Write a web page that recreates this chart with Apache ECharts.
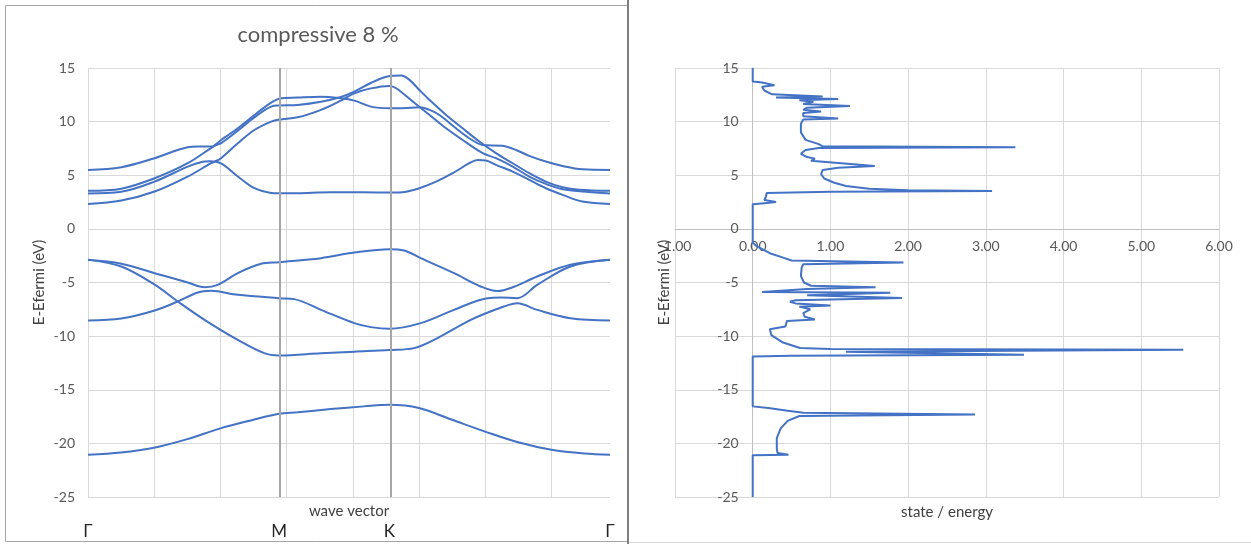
<!DOCTYPE html>
<html>
<head>
<meta charset="utf-8">
<script src="https://cdn.jsdelivr.net/npm/echarts@6/dist/echarts.min.js"></script>
<style>
html,body{margin:0;padding:0;background:#fff;}
#chart{width:1251px;height:544px;}
</style>
</head>
<body>
<div id="chart"></div>
<script>
// ---- data ----
var chartTitle = 'compressive 8 %';
var kPointValues = [0, 0.866, 1.366, 2.366];
var kPointNames = ['Γ', 'M', 'K', 'Γ'];
var yTicks = {min: -25, max: 15, step: 5};
var dosTicks = {min: -1, max: 6, step: 1};

// band structure: [k, E-Ef]
var band1 = [[0,-21.05],[0.15,-20.85],[0.3,-20.4],[0.45,-19.6],[0.6,-18.6],[0.75,-17.8],[0.866,-17.24],[0.95,-17.1],[1.1,-16.8],[1.25,-16.55],[1.366,-16.4],[1.5,-16.7],[1.65,-17.8],[1.8,-18.9],[1.95,-19.9],[2.1,-20.6],[2.25,-20.95],[2.366,-21.05]];
var band2 = [[0,-2.89],[0.151,-3.51],[0.302,-5.2],[0.407,-6.77],[0.528,-8.48],[0.679,-10.35],[0.799,-11.59],[0.866,-11.8],[1.056,-11.6],[1.207,-11.45],[1.366,-11.3],[1.478,-11.12],[1.584,-10.19],[1.735,-8.48],[1.885,-7.24],[1.946,-6.93],[2.036,-7.55],[2.187,-8.33],[2.366,-8.54]];
var band3 = [[0,-8.54],[0.151,-8.36],[0.302,-7.61],[0.407,-6.77],[0.498,-5.93],[0.558,-5.78],[0.679,-6.15],[0.866,-6.46],[0.935,-6.55],[1.056,-7.55],[1.207,-8.79],[1.282,-9.16],[1.366,-9.32],[1.508,-8.79],[1.659,-7.55],[1.81,-6.46],[1.87,-6.4],[1.946,-6.46],[2.036,-5.22],[2.187,-3.51],[2.366,-2.89]];
var band4 = [[0,-2.89],[0.151,-3.26],[0.302,-4.13],[0.452,-5.0],[0.528,-5.44],[0.588,-5.22],[0.679,-4.13],[0.784,-3.26],[0.866,-3.11],[1.056,-2.73],[1.207,-2.21],[1.366,-1.9],[1.433,-2.02],[1.508,-2.73],[1.659,-4.13],[1.78,-5.37],[1.855,-5.8],[1.931,-5.4],[2.036,-4.44],[2.187,-3.35],[2.366,-2.89]];
var band5 = [[0,2.33],[0.151,2.64],[0.302,3.48],[0.452,4.88],[0.558,6.12],[0.588,6.4],[0.603,6.59],[0.679,7.98],[0.754,9.22],[0.83,10.0],[0.866,10.2],[0.95,10.4],[1.056,11.1],[1.146,11.96],[1.207,12.64],[1.282,13.1],[1.366,13.33],[1.397,13.11],[1.472,11.87],[1.548,10.62],[1.623,9.38],[1.698,8.29],[1.789,7.06],[1.849,6.59],[1.925,5.81],[2.0,4.88],[2.075,4.19],[2.151,3.7],[2.366,3.3]];
var band6 = [[0,3.3],[0.151,3.46],[0.302,4.41],[0.452,5.8],[0.52,6.25],[0.55,6.3],[0.603,6.1],[0.679,4.88],[0.754,3.79],[0.83,3.35],[0.866,3.32],[0.95,3.33],[1.1,3.42],[1.25,3.42],[1.366,3.38],[1.442,3.47],[1.502,3.79],[1.578,4.41],[1.653,5.19],[1.728,6.12],[1.766,6.43],[1.804,6.37],[1.849,5.97],[1.925,5.34],[2.0,4.57],[2.075,3.79],[2.151,3.17],[2.241,2.55],[2.366,2.33]];
var band7 = [[0,3.55],[0.151,3.75],[0.302,4.72],[0.452,6.12],[0.573,7.74],[0.603,8.0],[0.679,9.16],[0.754,10.4],[0.83,11.4],[0.866,11.5],[0.95,11.56],[1.056,11.86],[1.146,12.3],[1.207,12.8],[1.282,13.6],[1.357,14.2],[1.42,14.29],[1.457,13.89],[1.502,12.95],[1.548,12.02],[1.623,10.62],[1.698,9.38],[1.774,8.14],[1.849,7.06],[1.925,6.12],[2.0,5.19],[2.075,4.41],[2.151,3.88],[2.226,3.65],[2.366,3.55]];
var band8 = [[0,5.5],[0.151,5.75],[0.302,6.59],[0.452,7.61],[0.498,7.67],[0.558,7.67],[0.603,8.29],[0.679,9.38],[0.754,10.62],[0.83,11.77],[0.866,12.14],[0.95,12.24],[1.056,12.33],[1.146,12.18],[1.207,11.96],[1.282,11.4],[1.366,11.25],[1.427,11.25],[1.502,11.34],[1.548,11.09],[1.593,10.62],[1.668,9.38],[1.728,8.45],[1.789,7.83],[1.879,7.74],[1.94,7.36],[2.0,6.81],[2.075,6.28],[2.151,5.87],[2.241,5.56],[2.366,5.5]];

// density of states: [state/energy, E-Ef]
var dosCurve = [[0,15],[0,13.75],[0.12,13.65],[0.28,13.4],[0.12,13.25],[0.15,12.9],[0.25,12.55],[0.9,12.35],[0.3,12.25],[1.1,12.1],[0.6,12.0],[0.78,11.85],[0.65,11.65],[1.25,11.45],[0.7,11.3],[0.65,11.1],[0.88,10.95],[0.65,10.8],[0.65,10.5],[1.1,10.3],[0.65,10.2],[0.62,9.8],[0.62,9.0],[0.68,8.3],[0.85,7.9],[0.9,7.7],[3.38,7.62],[0.85,7.55],[0.68,7.35],[0.62,7.0],[0.7,6.7],[0.8,6.55],[0.75,6.35],[1.1,6.15],[1.57,5.87],[1.1,5.7],[0.9,5.5],[0.88,5.1],[0.92,4.7],[1.05,4.3],[1.2,4.0],[1.5,3.75],[2.0,3.6],[3.08,3.54],[1.0,3.45],[0.18,3.35],[0.17,3.0],[0.15,2.7],[0.3,2.5],[0.15,2.4],[0,2.3],[0,-1.3],[0.05,-1.6],[0.22,-2.27],[0.4,-2.7],[0.5,-2.95],[1.94,-3.14],[0.65,-3.3],[0.63,-3.6],[0.62,-4.4],[0.66,-5.0],[0.75,-5.3],[1.58,-5.44],[0.7,-5.6],[0.12,-5.88],[1.77,-5.95],[0.7,-6.2],[1.92,-6.45],[0.55,-6.65],[0.48,-6.8],[0.55,-6.95],[1.0,-7.15],[0.6,-7.25],[0.74,-7.5],[0.65,-7.85],[0.67,-8.2],[0.8,-8.45],[0.44,-8.6],[0.42,-9.1],[0.22,-9.35],[0.24,-9.9],[0.39,-10.6],[0.61,-11.1],[1.0,-11.2],[5.54,-11.28],[1.2,-11.45],[3.49,-11.74],[0.5,-11.82],[0,-11.9],[0,-16.55],[0.2,-16.7],[0.45,-16.95],[0.65,-17.15],[2.86,-17.3],[0.6,-17.45],[0.45,-17.9],[0.36,-18.6],[0.31,-19.5],[0.31,-20.5],[0.32,-20.9],[0.46,-21.05],[0,-21.1],[0,-25]];

var bands = [band1, band2, band3, band4, band5, band6, band7, band8];

// ---- chart ----
var FONT = 'Lato, "Open Sans", sans-serif';
var BLUE = '#4472c4';
var GRID_C = '#d9d9d9';
var G2 = {left: 675, top: 68, width: 544, height: 429};
var chart = echarts.init(document.getElementById('chart'), null, {renderer: 'canvas'});

// offsets that put the DOS axes on the zero lines of the other axis
var xZeroOffset = -G2.height * (0 - yTicks.min) / (yTicks.max - yTicks.min);
var yZeroOffset = -G2.width * (0 - dosTicks.min) / (dosTicks.max - dosTicks.min);

var series = bands.map(function (b, i) {
  var s = {
    type: 'line', xAxisIndex: 0, yAxisIndex: 0, data: b,
    showSymbol: false, smooth: 0.35,
    lineStyle: {color: BLUE, width: 2}, itemStyle: {color: BLUE},
    silent: true, animation: false
  };
  if (i === 0) {
    s.markLine = {
      silent: true, symbol: ['none', 'none'], animation: false,
      label: {show: false},
      lineStyle: {color: '#a6a6a6', width: 2, type: 'solid'},
      data: [{xAxis: kPointValues[1]}, {xAxis: kPointValues[2]}]
    };
  }
  return s;
});
series.push({
  type: 'line', xAxisIndex: 1, yAxisIndex: 1, data: dosCurve,
  showSymbol: false, smooth: false,
  lineStyle: {color: BLUE, width: 2}, itemStyle: {color: BLUE},
  silent: true, animation: false
});

var option = {
  animation: false,
  backgroundColor: '#fff',
  textStyle: {fontFamily: FONT},
  title: {
    text: chartTitle, left: 313, top: 19, textAlign: 'center',
    textStyle: {fontFamily: FONT, fontSize: 22, fontWeight: 'normal', color: '#595959'}
  },
  graphic: [
    {type: 'rect', shape: {x: 5.5, y: 5.5, width: 622, height: 536}, style: {fill: 'none', stroke: '#a6a6a6', lineWidth: 1}, silent: true},
    {type: 'line', shape: {x1: 628, y1: 0, x2: 628, y2: 544}, style: {stroke: '#7f7f7f', lineWidth: 2}, silent: true},
    {type: 'line', shape: {x1: 629, y1: 542.5, x2: 1251, y2: 542.5}, style: {stroke: '#d9d9d9', lineWidth: 1}, silent: true}
  ],
  grid: [
    {left: 88, top: 68, width: 522, height: 429, outerBoundsMode: 'none', containLabel: false},
    {left: G2.left, top: G2.top, width: G2.width, height: G2.height, outerBoundsMode: 'none', containLabel: false}
  ],
  xAxis: [
    {
      gridIndex: 0, type: 'value', min: kPointValues[0], max: kPointValues[3], interval: 0.3,
      axisLine: {show: false, onZero: false}, axisTick: {show: false},
      axisLabel: {
        customValues: kPointValues, margin: 26, fontSize: 17, color: '#262626', fontFamily: FONT,
        formatter: function (v) {
          for (var i = 0; i < kPointValues.length; i++) {
            if (Math.abs(kPointValues[i] - v) < 1e-6) return kPointNames[i];
          }
          return '';
        }
      },
      splitLine: {show: true, showMaxLine: false, lineStyle: {color: GRID_C, width: 1}},
      name: 'wave vector', nameLocation: 'middle', nameGap: 7, nameMoveOverlap: false,
      nameTextStyle: {fontSize: 15, color: '#404040', fontFamily: FONT}
    },
    {
      gridIndex: 1, type: 'value', min: dosTicks.min, max: dosTicks.max, interval: dosTicks.step,
      position: 'bottom', offset: xZeroOffset,
      axisLine: {show: true, onZero: false, lineStyle: {color: '#bfbfbf', width: 1}},
      axisTick: {show: false},
      axisLabel: {margin: 11, fontSize: 14, color: '#595959', fontFamily: FONT,
        formatter: function (v) { return v.toFixed(2); }},
      splitLine: {show: true, lineStyle: {color: GRID_C, width: 1}},
      name: 'state / energy', nameLocation: 'middle', nameGap: 276, nameMoveOverlap: false,
      nameTextStyle: {fontSize: 15, color: '#404040', fontFamily: FONT}
    }
  ],
  yAxis: [
    {
      gridIndex: 0, type: 'value', min: yTicks.min, max: yTicks.max, interval: yTicks.step,
      axisLine: {show: false, onZero: false}, axisTick: {show: false},
      axisLabel: {margin: 13, fontSize: 14, color: '#595959', fontFamily: FONT},
      splitLine: {show: true, lineStyle: {color: GRID_C, width: 1}},
      name: 'E-Efermi (eV)', nameLocation: 'middle', nameGap: 41, nameRotate: 90, nameMoveOverlap: false,
      nameTextStyle: {fontSize: 15, color: '#404040', fontFamily: FONT}
    },
    {
      gridIndex: 1, type: 'value', min: yTicks.min, max: yTicks.max, interval: yTicks.step,
      position: 'left', offset: yZeroOffset,
      axisLine: {show: true, onZero: false, lineStyle: {color: '#bfbfbf', width: 1}},
      axisTick: {show: false},
      axisLabel: {margin: 14, fontSize: 14, color: '#595959', fontFamily: FONT},
      splitLine: {show: true, lineStyle: {color: GRID_C, width: 1}},
      name: 'E-Efermi (eV)', nameLocation: 'middle', nameGap: 81, nameRotate: 90, nameMoveOverlap: false,
      nameTextStyle: {fontSize: 15, color: '#404040', fontFamily: FONT}
    }
  ],
  series: series
};
chart.setOption(option);
</script>
</body>
</html>
